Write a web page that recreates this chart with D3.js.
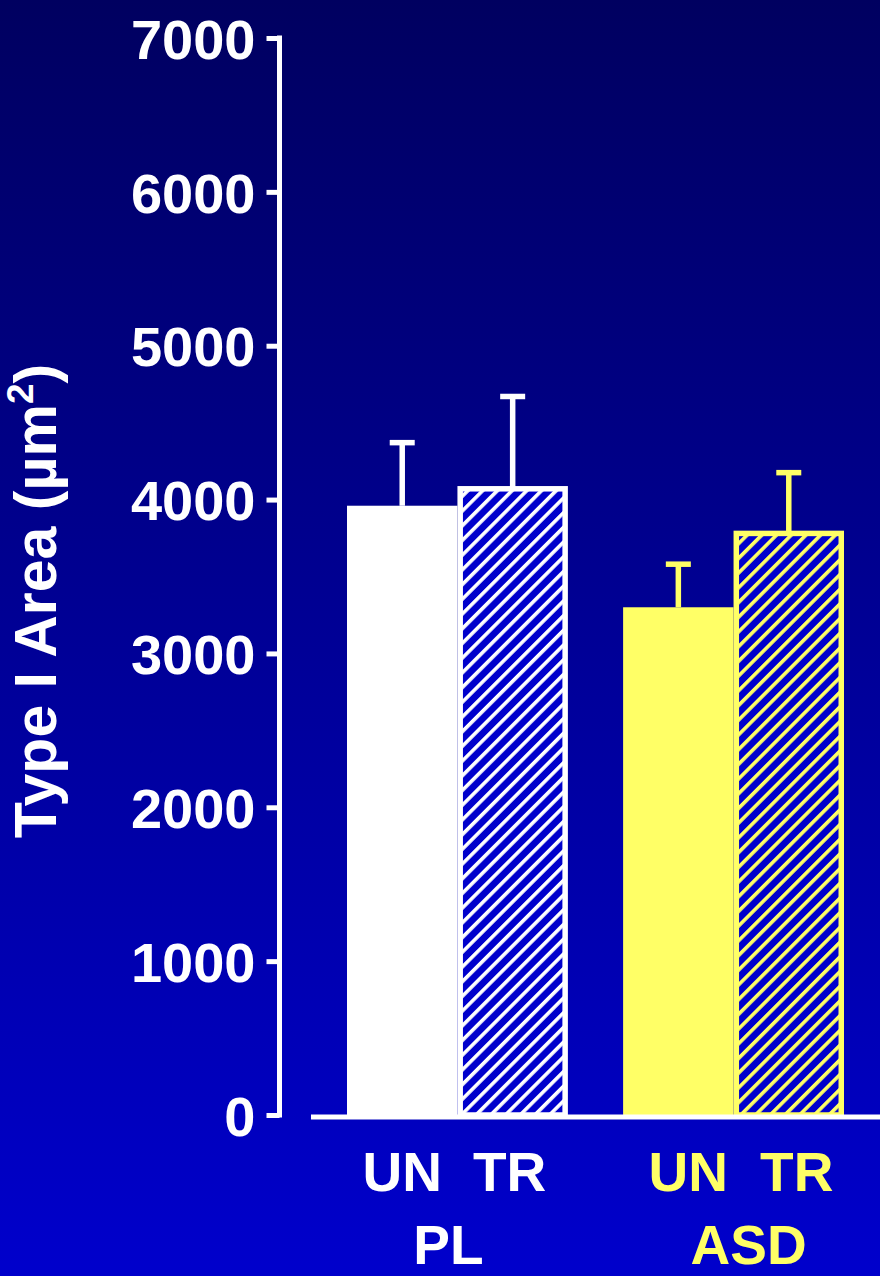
<!DOCTYPE html>
<html>
<head>
<meta charset="utf-8">
<script src="https://cdn.jsdelivr.net/npm/d3@7"></script>
<style>
  html, body { margin: 0; padding: 0; background: #000066; }
  svg { display: block; }
</style>
</head>
<body>
<svg id="chart" width="880" height="1276"></svg>
<script>
// Fibre area by group (PL / ASD) and condition (UN / TR): mean and SEM
const groups = ["PL", "ASD"];
const conditions = ["UN", "TR"];
const meanPL = [3960, 4070];
const meanASD = [3300, 3780];
const semPL = [410, 600];
const semASD = [280, 395];
const yTicks = [0, 1000, 2000, 3000, 4000, 5000, 6000, 7000];
const groupColors = ["#ffffff", "#ffff66"];

const data = [];
groups.forEach((g, gi) => {
  const means = gi === 0 ? meanPL : meanASD;
  const sems = gi === 0 ? semPL : semASD;
  conditions.forEach((c, ci) => {
    data.push({ group: g, cond: c, mean: means[ci], sem: sems[ci], color: groupColors[gi] });
  });
});

const W = 880, H = 1276;
const svg = d3.select("#chart");
const defs = svg.append("defs");

// background gradient: navy at the top, brighter blue at the bottom
const bg = defs.append("linearGradient").attr("id", "bg")
  .attr("x1", 0).attr("y1", 0).attr("x2", 0).attr("y2", 1);
bg.append("stop").attr("offset", "0%").attr("stop-color", "#000060");
bg.append("stop").attr("offset", "100%").attr("stop-color", "#0000cc");
svg.append("rect").attr("width", W).attr("height", H).attr("fill", "url(#bg)");

// diagonal hatch fills for the TR bars
const hp = 10.4;
groupColors.forEach((col, i) => {
  const p = defs.append("pattern").attr("id", "hatch" + i)
    .attr("patternUnits", "userSpaceOnUse")
    .attr("width", hp).attr("height", hp)
    .attr("patternTransform", "rotate(45)");
  p.append("rect").attr("width", hp).attr("height", hp).attr("fill", "#0000cc");
  p.append("rect").attr("width", 3.6).attr("height", hp).attr("fill", col);
});

const y = d3.scaleLinear().domain([0, 7000]).range([1115, 38]);
const x0 = d3.scaleBand().domain(groups).range([347, 844]).paddingInner(0.2).paddingOuter(0);
const x1 = d3.scaleBand().domain(conditions).range([0, x0.bandwidth()]).padding(0);

const font = "'Liberation Sans', Arial, Helvetica, sans-serif";
const sw = 5.5;

// bars
const bars = svg.append("g");
data.forEach(d => {
  const gi = groups.indexOf(d.group);
  const left = x0(d.group) + x1(d.cond);
  const w = x1.bandwidth();
  if (d.cond === "UN") {
    bars.append("rect")
      .attr("x", left).attr("y", y(d.mean))
      .attr("width", w).attr("height", y(0) - y(d.mean))
      .attr("fill", d.color);
  } else {
    bars.append("rect")
      .attr("x", left + sw / 2).attr("y", y(d.mean))
      .attr("width", w - sw).attr("height", y(0) - y(d.mean))
      .attr("fill", "url(#hatch" + gi + ")")
      .attr("stroke", d.color).attr("stroke-width", sw);
  }
  // upper error bar
  const cx = left + w / 2;
  const top = y(d.mean + d.sem);
  bars.append("line")
    .attr("x1", cx).attr("x2", cx)
    .attr("y1", y(d.mean)).attr("y2", top)
    .attr("stroke", d.color).attr("stroke-width", sw);
  bars.append("line")
    .attr("x1", cx - 12.5).attr("x2", cx + 12.5)
    .attr("y1", top).attr("y2", top)
    .attr("stroke", d.color).attr("stroke-width", sw);
});

// y axis
const yAxis = d3.axisLeft(y).tickValues(yTicks).tickFormat(d3.format("d"))
  .tickSize(13).tickSizeOuter(0).tickPadding(11);
const ag = svg.append("g").attr("transform", "translate(279.5,0)").call(yAxis);
ag.select(".domain").attr("stroke", "#ffffff").attr("stroke-width", 5)
  .attr("d", `M0,${y(7000) - 2.5}V${y(0) + 2.5}`);
ag.selectAll(".tick line").attr("stroke", "#ffffff").attr("stroke-width", 5);
ag.selectAll(".tick text")
  .attr("fill", "#ffffff")
  .attr("font-family", font).attr("font-weight", "bold").attr("font-size", 56)
  .attr("dy", "0.36em");

// x axis baseline
svg.append("line")
  .attr("x1", 311).attr("x2", W)
  .attr("y1", y(0) + 2).attr("y2", y(0) + 2)
  .attr("stroke", "#ffffff").attr("stroke-width", 5);

// condition labels under each bar and group labels under each pair
const labelDx = { PL: [0, -3], ASD: [10, 8] };
data.forEach(d => {
  const ci = conditions.indexOf(d.cond);
  const cx = x0(d.group) + x1(d.cond) + x1.bandwidth() / 2 + labelDx[d.group][ci];
  svg.append("text")
    .attr("x", cx).attr("y", 1191)
    .attr("text-anchor", "middle")
    .attr("fill", d.color)
    .attr("font-family", font).attr("font-weight", "bold").attr("font-size", 55)
    .text(d.cond);
});
const groupDx = [-9, 15];
groups.forEach((g, gi) => {
  svg.append("text")
    .attr("x", x0(g) + x0.bandwidth() / 2 + groupDx[gi]).attr("y", 1264)
    .attr("text-anchor", "middle")
    .attr("fill", groupColors[gi])
    .attr("font-family", font).attr("font-weight", "bold").attr("font-size", 55)
    .text(g);
});

// y axis title
const title = svg.append("text")
  .attr("transform", "translate(56,601) rotate(-90)")
  .attr("text-anchor", "middle")
  .attr("fill", "#ffffff")
  .attr("font-family", font).attr("font-weight", "bold").attr("font-size", 59);
title.append("tspan").text("Type I Area (\u00b5m");
title.append("tspan").attr("font-size", 37).attr("dy", -23).text("2");
title.append("tspan").attr("dy", 23).text(")");
</script>
</body>
</html>
